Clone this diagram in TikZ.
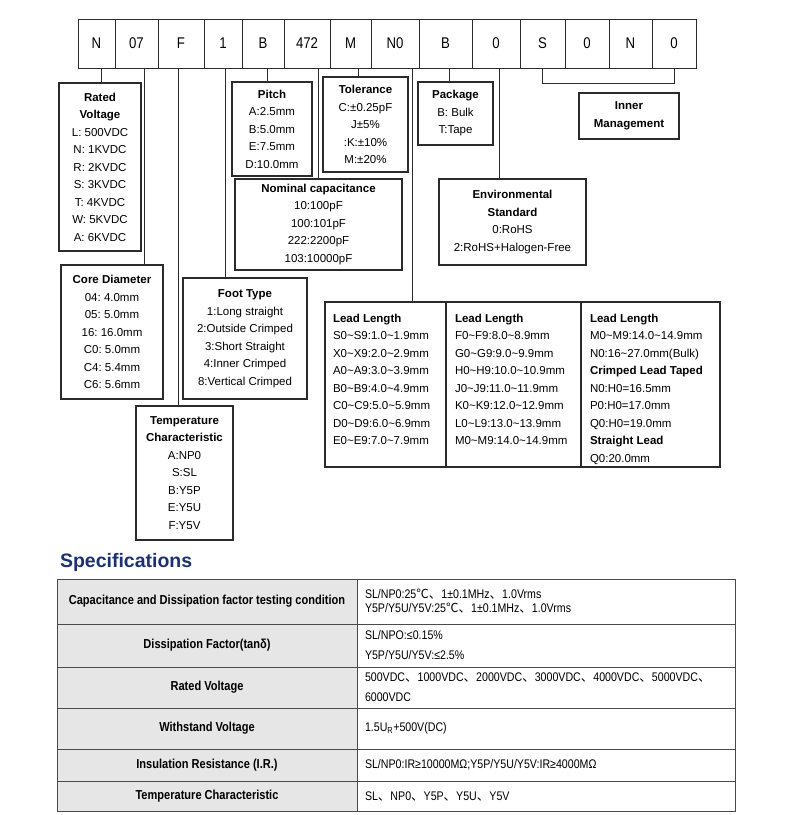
\documentclass[tikz,border=0pt]{standalone}
\usepackage{fontspec}
\setmainfont{Liberation Sans}
\newfontfamily\narrowfont[FakeStretch=0.85]{Liberation Sans}
\newfontfamily\cjkfont{Noto Sans CJK SC}
\usepackage{xcolor}
\definecolor{frameink}{HTML}{2B2B2B}
\definecolor{tableink}{HTML}{4A4A4A}
\definecolor{specblue}{HTML}{1C3270}
\definecolor{specshade}{HTML}{E6E6E6}
\newcommand{\tld}{\textasciitilde}
\newcommand{\dunhao}{{\cjkfont 、}}
\newcommand{\celsius}{{\cjkfont ℃}}
\AtBeginDocument{\frenchspacing}

\begin{document}
\begin{tikzpicture}[
  x=1pt,
  y=-1pt,
  every node/.style={inner sep=0pt, outer sep=0pt, text=black},
  cell/.style={draw=frameink, line width=1pt, minimum height=49,
               font=\narrowfont\fontsize{15.5}{17}\selectfont},
  box/.style={draw=frameink, line width=1.2pt, align=center,
              font=\fontsize{11.5}{17.5}\selectfont},
  leadtext/.style={anchor=north west, align=left,
                   font=\fontsize{11.5}{17.5}\selectfont},
  link/.style={frameink, line width=1pt},
  specleft/.style={draw=tableink, fill=specshade, line width=1pt,
                   anchor=north west, minimum width=300, align=center,
                   font=\narrowfont\bfseries\fontsize{13}{14}\selectfont},
  specright/.style={draw=tableink, line width=1pt, anchor=north west,
                    text width=362, inner xsep=8pt, align=left,
                    font=\narrowfont\fontsize{12.5}{14}\selectfont}
]
  \useasboundingbox (0,0) rectangle (790,815);

  % ---- the part number, one cell per code ----
  \foreach \l/\r/\t [count=\i] in {78/115/N, 115/158/07, 158/204/F,
      204/242/1, 242/284/B, 284/330/472, 330/371/M, 371/419/N0,
      419/472/B, 472/520/0, 520/565/S, 565/609/0, 609/652/N, 652/696/0}
    \node[cell, minimum width={\r-\l}] (c\i) at ({(\l+\r)/2},43.5) {\t};

  % ---- code boxes ----
  \node[box, minimum width=82, minimum height=168] (rated) at (100,167)
    {\textbf{Rated}\\\textbf{Voltage}\\L: 500VDC\\N: 1KVDC\\R: 2KVDC\\
     S: 3KVDC\\T: 4KVDC\\W: 5KVDC\\A: 6KVDC};
  \node[box, minimum width=102, minimum height=134] (core) at (112,332)
    {\textbf{Core Diameter}\\04: 4.0mm\\05: 5.0mm\\16: 16.0mm\\
     C0: 5.0mm\\C4: 5.4mm\\C6: 5.6mm};
  \node[box, minimum width=97, minimum height=134] (temp) at (184.5,473)
    {\textbf{Temperature}\\\textbf{Characteristic}\\A:NP0\\S:SL\\
     B:Y5P\\E:Y5U\\F:Y5V};
  \node[box, minimum width=124, minimum height=121] (foot) at (245,338.5)
    {\textbf{Foot Type}\\1:Long straight\\2:Outside Crimped\\
     3:Short Straight\\4:Inner Crimped\\8:Vertical Crimped};
  \node[box, minimum width=80, minimum height=94] (pitch) at (272,129)
    {\textbf{Pitch}\\A:2.5mm\\B:5.0mm\\E:7.5mm\\D:10.0mm};
  \node[box, minimum width=85, minimum height=95] (tol) at (365.5,124.5)
    {\textbf{Tolerance}\\C:±0.25pF\\J±5\%\\:K:±10\%\\M:±20\%};
  \node[box, minimum width=167, minimum height=91] (nominal) at (318.5,224.5)
    {\textbf{Nominal capacitance}\\10:100pF\\100:101pF\\222:2200pF\\
     103:10000pF};
  \node[box, minimum width=75, minimum height=63] (package) at (455.5,113.5)
    {\textbf{Package}\\B: Bulk\\T:Tape};
  \node[box, minimum width=147, minimum height=86] (env) at (512.5,222)
    {\textbf{Environmental}\\\textbf{Standard}\\0:RoHS\\
     2:RoHS+Halogen-Free};
  \node[box, minimum width=100, minimum height=46] (inner) at (629,116)
    {\textbf{Inner}\\\textbf{Management}};

  % ---- lead length table ----
  \node[draw=frameink, line width=1.2pt, minimum width=395, minimum height=165,
        anchor=north west] (lead) at (325,302) {};
  \draw[link, line width=1.2pt] ([xshift=121]lead.north west)
    -- ([xshift=121]lead.south west);
  \draw[link, line width=1.2pt] ([xshift=256]lead.north west)
    -- ([xshift=256]lead.south west);
  \node[leadtext] (lead1) at (333,314)
    {\textbf{Lead Length}\\S0\tld S9:1.0\tld 1.9mm\\X0\tld X9:2.0\tld 2.9mm\\
     A0\tld A9:3.0\tld 3.9mm\\B0\tld B9:4.0\tld 4.9mm\\
     C0\tld C9:5.0\tld 5.9mm\\D0\tld D9:6.0\tld 6.9mm\\
     E0\tld E9:7.0\tld 7.9mm};
  \node[leadtext] (lead2) at (455,314)
    {\textbf{Lead Length}\\F0\tld F9:8.0\tld 8.9mm\\G0\tld G9:9.0\tld 9.9mm\\
     H0\tld H9:10.0\tld 10.9mm\\J0\tld J9:11.0\tld 11.9mm\\
     K0\tld K9:12.0\tld 12.9mm\\L0\tld L9:13.0\tld 13.9mm\\
     M0\tld M9:14.0\tld 14.9mm};
  \node[leadtext] (lead3) at (590,314)
    {\textbf{Lead Length}\\M0\tld M9:14.0\tld 14.9mm\\
     N0:16\tld 27.0mm(Bulk)\\\textbf{Crimped Lead Taped}\\N0:H0=16.5mm\\
     P0:H0=17.0mm\\Q0:H0=19.0mm\\\textbf{Straight Lead}\\Q0:20.0mm};

  % ---- connectors from the codes to their boxes ----
  \foreach \c/\s/\b in {c1/5/rated, c2/7.5/core, c3/-3/temp, c4/2/foot,
      c5/4/pitch, c7/7.5/tol, c8/17/lead, c9/3.5/package, c10/3/env} {
    \coordinate (t\c) at ([xshift=\s]\c.south);
    \draw[link] (t\c) -- (t\c |- \b.north);
  }
  \draw[link] (nominal.north) -- (nominal.north |- c6.south);
  \draw[link] (c11.south) -- ++(0,15) -| (c14.south);

  % ---- specifications ----
  \node[anchor=base west, text=specblue,
        font=\bfseries\fontsize{19.5}{22}\selectfont] (spectitle) at (60,567)
    {Specifications};

  \node[specleft, minimum height=45] (s1l) at (57,579)
    {Capacitance and Dissipation factor testing condition};
  \node[specright, minimum height=45] (s1r) at (s1l.north east)
    {SL/NP0:25\celsius\dunhao 1±0.1MHz\dunhao 1.0Vrms\\
     Y5P/Y5U/Y5V:25\celsius\dunhao 1±0.1MHz\dunhao 1.0Vrms};
  \node[specleft, minimum height=43] (s2l) at (s1l.south west)
    {Dissipation Factor(tanδ)};
  \node[specright, minimum height=43] (s2r) at (s2l.north east)
    {SL/NPO:≤0.15\%\\[6pt]Y5P/Y5U/Y5V:≤2.5\%};
  \node[specleft, minimum height=41] (s3l) at (s2l.south west)
    {Rated Voltage};
  \node[specright, minimum height=41] (s3r) at (s3l.north east)
    {500VDC\dunhao 1000VDC\dunhao 2000VDC\dunhao 3000VDC\dunhao
     4000VDC\dunhao 5000VDC\dunhao\\[6pt]6000VDC};
  \node[specleft, minimum height=41] (s4l) at (s3l.south west)
    {Withstand Voltage};
  \node[specright, minimum height=41] (s4r) at (s4l.north east)
    {1.5U\textsubscript{R}+500V(DC)};
  \node[specleft, minimum height=32] (s5l) at (s4l.south west)
    {Insulation Resistance (I.R.)};
  \node[specright, minimum height=32] (s5r) at (s5l.north east)
    {SL/NP0:IR≥10000MΩ;Y5P/Y5U/Y5V:IR≥4000MΩ};
  \node[specleft, minimum height=30] (s6l) at (s5l.south west)
    {Temperature Characteristic};
  \node[specright, minimum height=30] (s6r) at (s6l.north east)
    {SL\dunhao NP0\dunhao Y5P\dunhao Y5U\dunhao Y5V};
\end{tikzpicture}
\end{document}
